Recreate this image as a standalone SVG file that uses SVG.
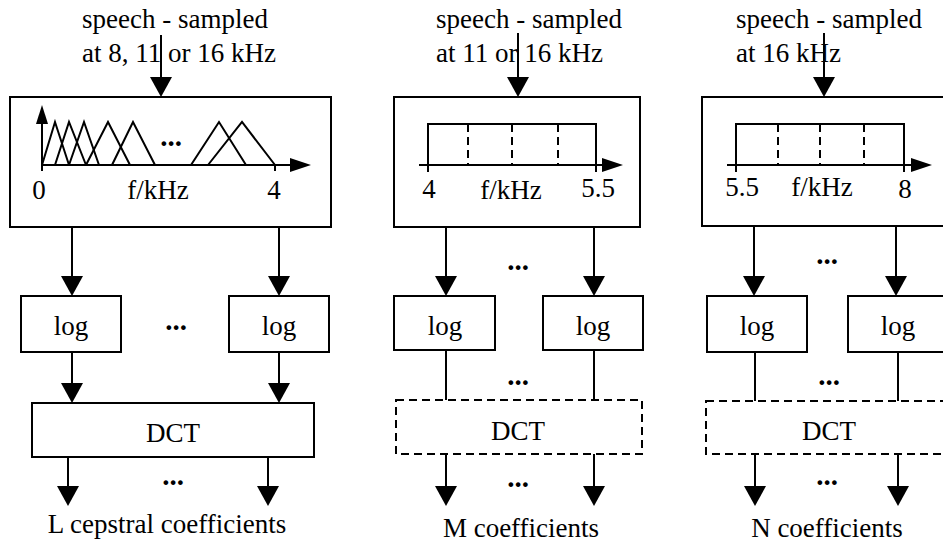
<svg xmlns="http://www.w3.org/2000/svg" width="943" height="545" viewBox="0 0 943 545" font-family="Liberation Serif" font-size="27">
<style>
text{font-family:Liberation Serif, serif;font-size:27px;fill:#000}
.c{text-anchor:middle}
.dots{font-weight:bold;font-size:29px;text-anchor:middle}
.box{fill:none;stroke:#000;stroke-width:2}
.dbox{fill:none;stroke:#000;stroke-width:2;stroke-dasharray:8 5}
.ln{fill:none;stroke:#000;stroke-width:2}
.arr{fill:none;stroke:#000;stroke-width:2;marker-end:url(#ah)}
.dl{fill:none;stroke:#000;stroke-width:2;stroke-dasharray:8 5}
.tri{fill:none;stroke:#000;stroke-width:2;stroke-linejoin:miter}
</style>
<defs>
<marker id="ah" viewBox="0 0 20 22" refX="15" refY="11" markerWidth="20" markerHeight="22" markerUnits="userSpaceOnUse" orient="auto">
<path d="M0,0 L20,11 L0,22 Z" fill="#000"/>
</marker>
<marker id="ax" viewBox="0 0 21 14" refX="16" refY="7" markerWidth="21" markerHeight="14" markerUnits="userSpaceOnUse" orient="auto">
<path d="M0,0 L21,7 L0,14 Z" fill="#000"/>
</marker>
<marker id="ay" viewBox="0 0 19 12" refX="14" refY="6" markerWidth="19" markerHeight="12" markerUnits="userSpaceOnUse" orient="auto">
<path d="M0,0 L19,6 L0,12 Z" fill="#000"/>
</marker>
</defs>

<g id="input-labels">
<text x="82" y="28">speech - sampled</text>
<text x="82" y="62">at 8, 11 or 16 kHz</text>
<text x="436" y="28">speech - sampled</text>
<text x="436" y="62">at 11 or 16 kHz</text>
<text x="736" y="28">speech - sampled</text>
<text x="736" y="62">at 16 kHz</text>
</g>

<!-- Panel 1 -->
<g id="filterbank1">
<rect class="box" x="10" y="97" width="321" height="130"/>
<line class="ln" x1="42" y1="171" x2="42" y2="110" marker-end="url(#ay)"/>
<line class="ln" x1="42" y1="165" x2="306" y2="165" marker-end="url(#ax)"/>
<line class="ln" x1="275" y1="165" x2="275" y2="171"/>
<polyline class="tri" points="42,165 55,122 69,165"/>
<polyline class="tri" points="55,165 69,122 86,165"/>
<polyline class="tri" points="69,165 84,122 99,165"/>
<polyline class="tri" points="86,165 108,122 130,165"/>
<polyline class="tri" points="112,165 133,122 155,165"/>
<polyline class="tri" points="191,165 219,122 246,165"/>
<polyline class="tri" points="208,165 242,122 275,165"/>
<text class="dots" x="171" y="146">...</text>
<text class="c" x="39" y="199">0</text>
<text class="c" x="158" y="199">f/kHz</text>
<text class="c" x="274" y="199">4</text>
</g>
<g id="log1a"><rect class="box" x="21" y="296" width="100" height="56"/><text class="c" x="71" y="335">log</text></g>
<g id="log1b"><rect class="box" x="229" y="296" width="100" height="56"/><text class="c" x="279" y="335">log</text></g>
<g id="dct1"><rect class="box" x="32" y="403" width="282" height="54"/><text class="c" x="173" y="442">DCT</text></g>
<g id="out1"><text class="c" x="167" y="533">L cepstral coefficients</text></g>

<!-- Panel 2 -->
<g id="filterbank2">
<rect class="box" x="394" y="97" width="246" height="130"/>
<polyline class="ln" points="428,165 428,124 596,124 596,165"/>
<line class="dl" x1="468" y1="124" x2="468" y2="165"/>
<line class="dl" x1="512" y1="124" x2="512" y2="165"/>
<line class="dl" x1="558" y1="124" x2="558" y2="165"/>
<line class="ln" x1="419" y1="165" x2="618" y2="165" marker-end="url(#ax)"/>
<line class="ln" x1="428" y1="165" x2="428" y2="172"/>
<line class="ln" x1="596" y1="165" x2="596" y2="172"/>
<text class="c" x="429" y="198">4</text>
<text class="c" x="511" y="199">f/kHz</text>
<text class="c" x="598" y="197">5.5</text>
</g>
<g id="log2a"><rect class="box" x="394" y="296" width="101" height="54"/><text class="c" x="445" y="335">log</text></g>
<g id="log2b"><rect class="box" x="543" y="296" width="100" height="54"/><text class="c" x="593" y="335">log</text></g>
<g id="dct2"><rect class="dbox" x="396" y="400" width="246" height="54"/><text class="c" x="518" y="440">DCT</text></g>
<g id="out2"><text class="c" x="521" y="537">M coefficients</text></g>

<!-- Panel 3 -->
<g id="filterbank3">
<rect class="box" x="702" y="97" width="260" height="129"/>
<polyline class="ln" points="736,165 736,124 904,124 904,165"/>
<line class="dl" x1="778" y1="124" x2="778" y2="165"/>
<line class="dl" x1="820" y1="124" x2="820" y2="165"/>
<line class="dl" x1="864" y1="124" x2="864" y2="165"/>
<line class="ln" x1="727" y1="165" x2="927" y2="165" marker-end="url(#ax)"/>
<line class="ln" x1="736" y1="165" x2="736" y2="172"/>
<line class="ln" x1="904" y1="165" x2="904" y2="172"/>
<text class="c" x="742" y="196">5.5</text>
<text class="c" x="822" y="196">f/kHz</text>
<text class="c" x="905" y="198">8</text>
</g>
<g id="log3a"><rect class="box" x="707" y="296" width="100" height="56"/><text class="c" x="757" y="335">log</text></g>
<g id="log3b"><rect class="box" x="848" y="296" width="100" height="56"/><text class="c" x="898" y="335">log</text></g>
<g id="dct3"><rect class="dbox" x="706" y="401" width="260" height="53"/><text class="c" x="829" y="440">DCT</text></g>
<g id="out3"><text class="c" x="827" y="537">N coefficients</text></g>

<g id="ellipses">
<text class="dots" x="176" y="330">...</text>
<text class="dots" x="173" y="485">...</text>
<text class="dots" x="518" y="270">...</text>
<text class="dots" x="518" y="385">...</text>
<text class="dots" x="518" y="487">...</text>
<text class="dots" x="827" y="264">...</text>
<text class="dots" x="829" y="385">...</text>
<text class="dots" x="827" y="485">...</text>
</g>

<g id="connectors">
<line class="arr" x1="161" y1="35" x2="161" y2="92"/>
<line class="arr" x1="518" y1="33" x2="518" y2="92"/>
<line class="arr" x1="824" y1="33" x2="824" y2="92"/>
<line class="arr" x1="72" y1="227" x2="72" y2="291"/>
<line class="arr" x1="279" y1="227" x2="279" y2="291"/>
<line class="arr" x1="72" y1="352" x2="72" y2="398"/>
<line class="arr" x1="279" y1="352" x2="279" y2="398"/>
<line class="arr" x1="68" y1="457" x2="68" y2="501"/>
<line class="arr" x1="268" y1="457" x2="268" y2="501"/>
<line class="arr" x1="446" y1="227" x2="446" y2="291"/>
<line class="arr" x1="594" y1="227" x2="594" y2="291"/>
<line class="ln" x1="446" y1="350" x2="446" y2="400"/>
<line class="ln" x1="594" y1="350" x2="594" y2="400"/>
<line class="arr" x1="446" y1="454" x2="446" y2="501"/>
<line class="arr" x1="594" y1="454" x2="594" y2="501"/>
<line class="arr" x1="754" y1="226" x2="754" y2="291"/>
<line class="arr" x1="896" y1="226" x2="896" y2="291"/>
<line class="ln" x1="755" y1="352" x2="755" y2="401"/>
<line class="ln" x1="898" y1="352" x2="898" y2="401"/>
<line class="arr" x1="755" y1="454" x2="755" y2="501"/>
<line class="arr" x1="898" y1="454" x2="898" y2="501"/>
</g>
</svg>
